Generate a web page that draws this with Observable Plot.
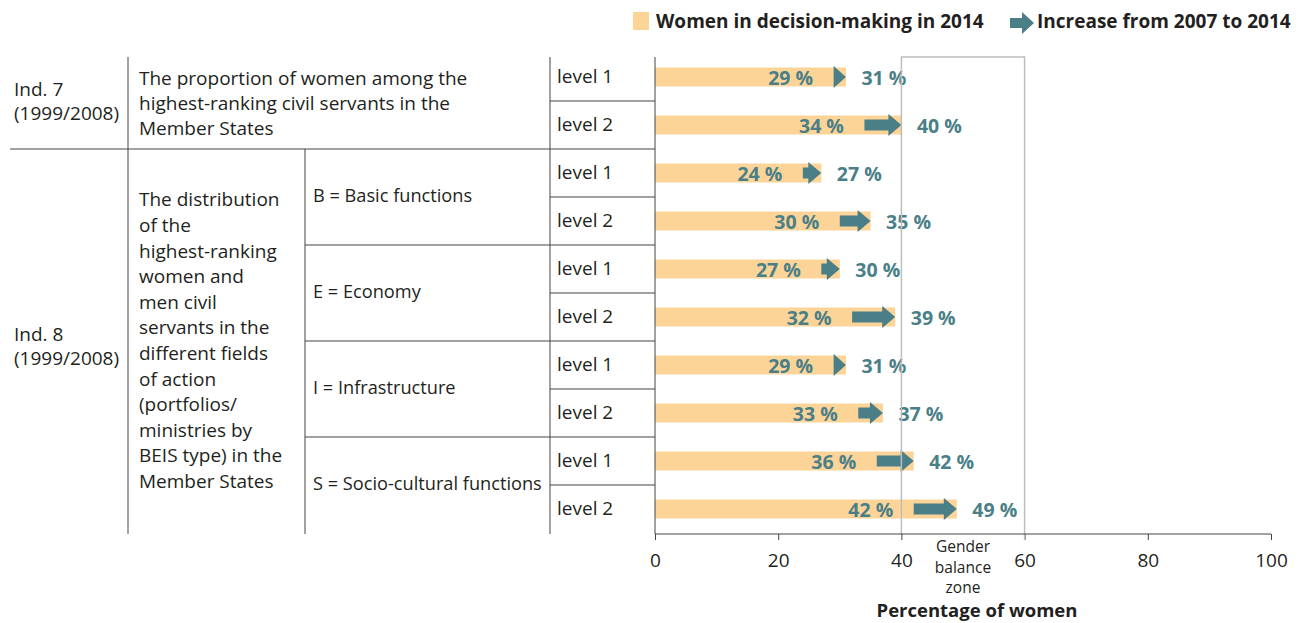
<!DOCTYPE html>
<html><head><meta charset="utf-8">
<script src="https://cdn.jsdelivr.net/npm/d3@7"></script>
<script src="https://cdn.jsdelivr.net/npm/@observablehq/plot@0.6"></script>
<style>
body{margin:0;background:#fff;font-family:"Open Sans",sans-serif;color:#231f20;}
#legend{position:relative;height:45px;width:1301px;}
#legend .sw{position:absolute;left:633px;top:12px;width:16px;height:18px;background:#fcd498;}
#legend .t{position:absolute;top:8px;font-weight:bold;font-size:19px;line-height:26px;white-space:nowrap;}
#legend svg{position:absolute;left:1010px;top:11px;}
</style></head><body>
<div id="legend">
  <div class="sw"></div>
  <div class="t" style="left:656px">Women in decision-making in 2014</div>
  <svg width="26" height="24"><polygon points="0,7 12,7 12,1 24,12 12,23 12,17 0,17" fill="#4a7f88"/></svg>
  <div class="t" style="left:1037px">Increase from 2007 to 2014</div>
</div>
<div id="chart"></div>
<script>
const rowKeys = ["Ind7 level 1","Ind7 level 2","B level 1","B level 2","E level 1","E level 2","I level 1","I level 2","S level 1","S level 2"];
const levelLabels = ["level 1","level 2","level 1","level 2","level 1","level 2","level 1","level 2","level 1","level 2"];
const women2007 = [29, 34, 24, 30, 27, 32, 29, 33, 36, 42];
const women2014 = [31, 40, 27, 35, 30, 39, 31, 37, 42, 49];
const groupLabels = ["B = Basic functions","E = Economy","I = Infrastructure","S = Socio-cultural functions"];
const ind7Label = ["Ind. 7","(1999/2008)"];
const ind8Label = ["Ind. 8","(1999/2008)"];
const ind7Text = ["The proportion of women among the","highest-ranking civil servants in the","Member States"];
const ind8Text = ["The distribution","of the","highest-ranking","women and","men civil","servants in the","different fields","of action","(portfolios/","ministries by","BEIS type) in the","Member States"];
const xTicks = [0, 20, 40, 60, 80, 100];
const balanceZone = [40, 60];
const zoneLabel = ["Gender","balance","zone"];
const xTitle = "Percentage of women";

(function () {
const BAR = "#fcd498", TEAL = "#4a7f88", INK = "#231f20", GRID = "#bdbdbd";
const FONT = "'Open Sans', sans-serif";

const data = rowKeys.map((k, i) => ({key: k, level: levelLabels[i], v2007: women2007[i], v2014: women2014[i]}));

const plot = Plot.plot({
  width: 1301, height: 578,
  marginLeft: 655, marginRight: 30, marginTop: 6, marginBottom: 89,
  x: {domain: [0, 100]},
  y: {domain: rowKeys, axis: null, padding: 0},
  style: {fontFamily: FONT, fontSize: "18px", color: INK, background: "white"},
  marks: [
    Plot.barX(data, {x: "v2014", y: "key", fill: BAR, insetTop: 14.5, insetBottom: 14.5}),
    Plot.text(data, {x: "v2007", y: "key", text: d => d.v2007 + " %", textAnchor: "end", dx: -21, dy: 1, fill: TEAL, fontWeight: "bold", fontSize: 19.5}),
    Plot.text(data, {x: "v2014", y: "key", text: d => d.v2014 + " %", textAnchor: "start", dx: 15, dy: 1, fill: TEAL, fontWeight: "bold", fontSize: 19.5}),
    Plot.axisX({ticks: xTicks, tickSize: 6, tickPadding: 13, fontSize: 19, label: null, stroke: "#444", color: INK})
  ]
});
document.getElementById("chart").appendChild(plot);

const X = plot.scale("x"), Y = plot.scale("y");
const x = v => X.apply(v);
const yStart = k => Y.apply(k);
const bw = Y.bandwidth;
const svg = d3.select(plot);
const yTop = Y.range[0] + 6;
const yBot = Y.range[1];

// arrows 2007 -> 2014
const ag = svg.append("g").attr("fill", TEAL);
data.forEach(d => {
  const x0 = x(d.v2007), x1 = x(d.v2014);
  const cy = yStart(d.key) + bw / 2;
  const hl = Math.min(13, x1 - x0), hh = 11, sh = 5.5;
  const xs = x1 - hl;
  ag.append("path").attr("d",
    `M${x0},${cy - sh}L${xs},${cy - sh}L${xs},${cy - hh}L${x1},${cy}L${xs},${cy + hh}L${xs},${cy + sh}L${x0},${cy + sh}Z`);
});

// gender balance zone
const zg = svg.append("g").attr("stroke", GRID).attr("stroke-width", 1.5).attr("fill", "none");
zg.append("path").attr("d", `M${x(balanceZone[0])},${yBot}V${yTop}H${x(balanceZone[1])}V${yBot + 6}`);

// axis line
svg.append("line").attr("x1", x(0)).attr("x2", x(100)).attr("y1", yBot).attr("y2", yBot).attr("stroke", "#444");

// table lines
const tg = svg.append("g").attr("stroke", "#444").attr("stroke-width", 1);
const hline = (x1, x2, yy) => tg.append("line").attr("x1", x1).attr("x2", x2).attr("y1", yy).attr("y2", yy);
const vline = (xx, y1, y2) => tg.append("line").attr("x1", xx).attr("x2", xx).attr("y1", y1).attr("y2", y2);
vline(128, yTop, yBot); vline(550, yTop, yBot); vline(x(0), yTop, yBot);
vline(305, yStart(rowKeys[2]), yBot);
rowKeys.forEach((k, i) => {
  if (i === 0) return;
  if (i === 2) hline(10, x(0), yStart(k));
  else if (i % 2 === 1) hline(550, x(0), yStart(k));
  else hline(305, x(0), yStart(k));
});

// table text
const txt = svg.append("g").attr("font-family", FONT).attr("font-size", 19).attr("fill", INK);
const put = (s, xx, yy, anchor = "start") => txt.append("text").attr("x", xx).attr("y", yy).attr("dy", "0.35em").attr("text-anchor", anchor).text(s);
rowKeys.forEach((k, i) => put(levelLabels[i], 557, yStart(k) + bw / 2 - 1));
groupLabels.forEach((g, j) => put(g, 313, yStart(rowKeys[3 + 2 * j]) - 1).attr("font-size", 18.2));
const b7 = yStart(rowKeys[1]);
ind7Label.forEach((s, j) => put(s, 14, b7 - 12 + j * 24));
ind7Text.forEach((s, j) => put(s, 139, b7 - 23 + j * 25));
const c8 = (yStart(rowKeys[2]) + yBot) / 2;
ind8Label.forEach((s, j) => put(s, 14, c8 - 7 + j * 24));
ind8Text.forEach((s, j) => put(s, 139, c8 - 1 + (j - 5.5) * 25.6));

// zone label & x title
const zc = x((balanceZone[0] + balanceZone[1]) / 2);
zoneLabel.forEach((s, j) => put(s, zc, yBot + 13 + j * 20.5, "middle").attr("font-size", 15.5));
put(xTitle, 977, yBot + 77, "middle").attr("font-weight", "bold").attr("font-size", 18.5);
})();
</script>
</body></html>
